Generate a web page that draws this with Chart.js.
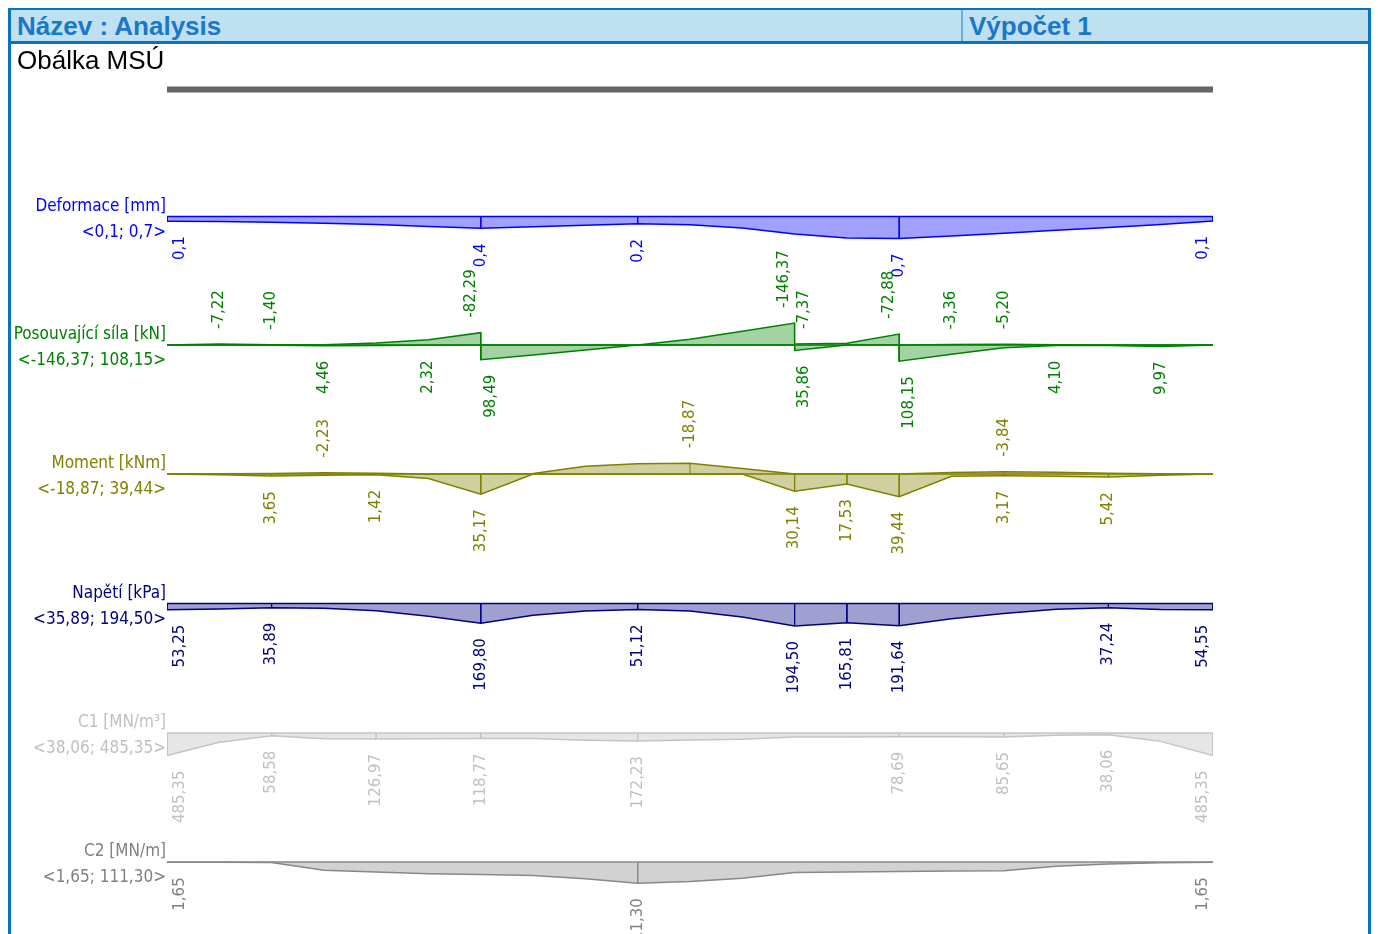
<!DOCTYPE html>
<html><head><meta charset="utf-8">
<script src="https://cdn.jsdelivr.net/npm/chart.js@4.4.1/dist/chart.umd.min.js"></script>
<style>
html,body{margin:0;padding:0;background:#fff;width:1378px;height:934px;overflow:hidden;position:relative;font-family:"Liberation Sans",Arial,sans-serif;}
.b{position:absolute;background:#0a72c2;}
#band{position:absolute;left:11px;top:10px;width:1357px;height:31px;background:#bfe0f1;}
#div1{position:absolute;left:961px;top:10px;width:2px;height:31px;background:#6aaee0;}
.h{position:absolute;top:10px;height:32px;line-height:32px;font-weight:bold;font-size:26px;color:#1a78c8;}
#sub{position:absolute;left:17px;top:44px;font-size:26px;line-height:32px;color:#000;}
canvas{position:absolute;left:0;top:0;}
</style></head><body>
<canvas id="c" width="1378" height="934"></canvas>
<div id="band"></div>
<div id="div1"></div>
<div class="b" style="left:8px;top:8px;width:1363px;height:2px;"></div>
<div class="b" style="left:8px;top:41px;width:1363px;height:3px;"></div>
<div class="b" style="left:8px;top:8px;width:3px;height:926px;"></div>
<div class="b" style="left:1368px;top:8px;width:3px;height:926px;"></div>
<div class="h" style="left:17px;">Název : Analysis</div>
<div class="h" style="left:969px;">Výpočet 1</div>
<div id="sub">Obálka MSÚ</div>
<script>
// ---- data ----
const nodes = [0,1,2,3,4,5,6,7,8,9,10,11,12,13,14,15,16,17,18,19,20];
const deformation = [0.146,0.156,0.178,0.21,0.25,0.31,0.37,0.32,0.27,0.23,0.26,0.36,0.55,0.67,0.69,0.61,0.52,0.43,0.34,0.25,0.14];
const deformationLabels = [0,6,9,14,20];

const shearMax = [[0,0],[1,0.5],[2,1.5],[3,4.46],[4,3.5],[5,2.32],[6,1.5],[6,98.49],[7,66],[8,33],[9,0],[10,0],[11,0],[12,0],[12,35.86],[13,0],[14,0],[14,108.15],[15,62],[16,18],[17,4.10],[18,3],[19,9.97],[20,0]];
const shearMin = [[0,0],[1,-7.22],[2,-1.40],[3,-1],[4,-13],[5,-35],[6,-82.29],[6,0],[7,0],[8,0],[9,0],[10,-38],[11,-92],[12,-146.37],[12,-7.37],[13,-12],[14,-72.88],[14,0],[15,-3.36],[16,-5.20],[17,-1.5],[18,-0.5],[19,0],[20,0]];
const shearLabels = [['min',1,0],['min',2,0],['max',3,0],['max',5,0],['min',6,-1],['max',6,1],['min',12,-1],['min',12,1],['max',12,1],['min',14,-1],['max',14,1],['min',15,0],['min',16,0],['max',17,0],['max',19,0]];

const momentMax = [0,1.5,3.65,2,1.42,8,35.17,0,0,0,0,0,30.14,17.53,39.44,4,3.17,4,5.42,2,0];
const momentMin = [0,-0.5,-1,-2.23,-1.5,0,0,-1,-13.5,-18,-18.87,-9.4,0,0,0,-2.5,-3.84,-3,-1.5,-0.5,0];
const momentLabels = [['max',2],['min',3],['max',4],['max',6],['min',10],['max',12],['max',13],['max',14],['max',16],['min',16],['max',18]];

const stress = [53.25,47,35.89,41,62,110,169.80,102,64,51.12,64,116,194.50,165.81,191.64,131,87,49,37.24,52,54.55];
const stressLabels = [0,2,6,9,12,13,14,18,20];

const c1 = [485.35,200,58.58,121,126.97,125,118.77,120,155,172.23,150,136,86,86,78.69,80,85.65,50,38.06,180,485.35];
const c1Labels = [0,2,4,6,9,14,16,18,20];

const c2 = [1.65,1.9,3,44,53,62,66,71,88,111.30,102,86,55,52,50,48,46,22,10,4,1.65];
const c2Labels = [0,9,20];

// ---- layout helpers ----
const TOP = 80, BOTTOM = 934;
function axis(base, ppu){
  return {type:'linear', display:false, reverse:true, min:-(base-TOP)/ppu, max:(BOTTOM-base)/ppu};
}
const fmt = (v,d)=> v.toFixed(d).replace('.',',');
const pts = arr => arr.map((v,i)=>({x:nodes[i], y:v}));
const pairPts = arr => arr.map(p=>({x:p[0], y:p[1]}));

function pairVal(arr, x, side){
  const m = arr.filter(p=>p[0]===x);
  return side>0 ? m[m.length-1][1] : m[0][1];
}

const strips = [
  {axis:'yDef', name:'Deformace [mm]', color:'#0000ff', fill:'#a0a0ff', dec:1,
   series:[deformation], labels: deformationLabels.map(i=>({x:nodes[i], v:deformation[i], side:0}))},
  {axis:'ySh', name:'Posouvající síla [kN]', color:'#008000', fill:'#a3d3a3', dec:2,
   pairs:[shearMax, shearMin],
   labels: shearLabels.map(l=>({x:l[1], v:pairVal(l[0]==='max'?shearMax:shearMin, l[1], l[2]), side:l[2]}))},
  {axis:'yMo', name:'Moment [kNm]', color:'#808000', fill:'#d0d09f', dec:2,
   series:[momentMax, momentMin],
   labels: momentLabels.map(l=>({x:nodes[l[1]], v:(l[0]==='max'?momentMax:momentMin)[l[1]], side:0}))},
  {axis:'ySt', name:'Napětí [kPa]', color:'#000080', fill:'#a0a0d0', dec:2,
   series:[stress], labels: stressLabels.map(i=>({x:nodes[i], v:stress[i], side:0}))},
  {axis:'yC1', name:'C1 [MN/m³]', color:'#c4c4c4', text:'#c0c0c0', fill:'#e6e6e6', dec:2,
   series:[c1], labels: c1Labels.map(i=>({x:nodes[i], v:c1[i], side:0}))},
  {axis:'yC2', name:'C2 [MN/m]', color:'#888888', text:'#808080', fill:'#d2d2d2', dec:2,
   series:[c2], labels: c2Labels.map(i=>({x:nodes[i], v:c2[i], side:0}))}
];

const scales = {
  x:{type:'linear', display:false, min:0, max:20},
  yBeam: axis(89.5, 1),
  yDef: axis(216.5, 32),
  ySh: axis(345, 0.15),
  yMo: axis(474, 0.575),
  ySt: axis(603.5, 0.116),
  yC1: axis(733, 0.0465),
  yC2: axis(862, 0.19)
};

const datasets = [];
datasets.push({data:[{x:0,y:0},{x:20,y:0}], yAxisID:'yBeam', borderColor:'#666666', borderWidth:6, pointRadius:0, fill:false, order:2});
strips.forEach(s=>{
  const sets = s.series ? s.series.map(pts) : s.pairs.map(pairPts);
  sets.forEach(d=>{
    datasets.push({data:d, yAxisID:s.axis, borderColor:s.color, backgroundColor:s.fill, borderWidth:1.5,
      pointRadius:0, tension:0, fill:{value:0}, order:3});
  });
  datasets.push({data:[{x:0,y:0},{x:20,y:0}], yAxisID:s.axis, borderColor:s.color, borderWidth:1.5, pointRadius:0, fill:false, order:2});
  const vl = [];
  const ends = s.series ? [0,20].map(x=>({x, v:s.series[0][nodes.indexOf(x)]})) : [];
  s.labels.concat(ends).forEach(l=>{ vl.push({x:l.x,y:0},{x:l.x,y:l.v},{x:l.x,y:null}); });
  datasets.push({data:vl, yAxisID:s.axis, borderColor:s.color, borderWidth:1, pointRadius:0, fill:false, spanGaps:false, order:1});
});

const textPlugin = {
  id:'texts',
  afterDraw(chart){
    const ctx = chart.ctx, xs = chart.scales.x;
    strips.forEach(s=>{
      const ys = chart.scales[s.axis];
      const base = ys.getPixelForValue(0);
      const tc = s.text || s.color;
      let all = [];
      if (s.series) s.series.forEach(a=>all = all.concat(a)); else s.pairs.forEach(a=>all = all.concat(a.map(p=>p[1])));
      ctx.save();
      ctx.fillStyle = tc;
      ctx.textAlign = 'right'; ctx.textBaseline = 'middle';
      ctx.font = "17px 'DejaVu Sans Condensed', 'DejaVu Sans'";
      ctx.fillText(s.name, 166, base-10);
      ctx.fillText('<'+fmt(Math.min(...all),s.dec)+'; '+fmt(Math.max(...all),s.dec)+'>', 166, base+16);
      ctx.font = "15px 'DejaVu Sans'";
      s.labels.forEach(l=>{
        let px = xs.getPixelForValue(l.x);
        if (l.x===xs.min) px += 13; else if (l.x===xs.max) px -= 10;
        px += l.side*10;
        const py = ys.getPixelForValue(l.v);
        ctx.save();
        if (l.v < 0){ ctx.translate(px, py-15); ctx.rotate(-Math.PI/2); ctx.textAlign='left'; }
        else { ctx.translate(px, py+15); ctx.rotate(-Math.PI/2); ctx.textAlign='right'; }
        ctx.textBaseline='middle';
        ctx.fillText(fmt(l.v, s.dec), 0, 0);
        ctx.restore();
      });
      ctx.restore();
    });
  }
};

new Chart(document.getElementById('c'), {
  type:'line',
  data:{datasets},
  options:{
    responsive:false, animation:false, devicePixelRatio:1,
    layout:{padding:{left:167, right:165, top:TOP, bottom:0}},
    scales,
    plugins:{legend:{display:false}, tooltip:{enabled:false}, filler:{drawTime:'beforeDatasetsDraw'}},
    events:[]
  },
  plugins:[textPlugin]
});
</script>
</body></html>
